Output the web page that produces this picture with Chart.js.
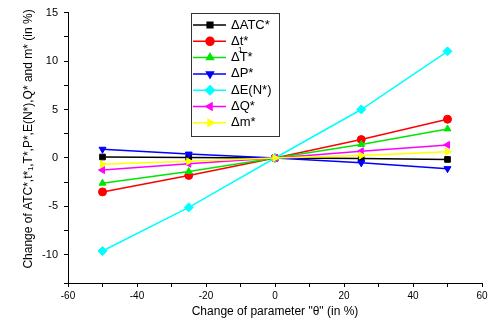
<!DOCTYPE html>
<html>
<head>
<meta charset="utf-8">
<script src="https://cdn.jsdelivr.net/npm/chart.js@4/dist/chart.umd.min.js"></script>
<style>
  html, body { margin: 0; padding: 0; background: #fff; }
  #wrap { width: 498px; height: 324px; }
</style>
</head>
<body>
<div id="wrap"><canvas id="myChart" width="498" height="324"></canvas></div>
<script>
const thetaChange = [-50, -25, 0, 25, 50];
const atc = [0.1, 0.05, 0, -0.05, -0.15];
const t1 = [-3.5, -1.8, 0, 1.9, 4.0];
const bigT = [-2.6, -1.4, 0, 1.4, 3.0];
const price = [0.9, 0.4, 0, -0.5, -1.1];
const eN = [-9.6, -5.1, 0, 5.0, 11.0];
const q = [-1.25, -0.6, 0, 0.7, 1.35];
const m = [-0.65, -0.35, 0, 0.25, 0.65];

const seriesNames = ['ΔATC*', 'Δt*', 'ΔT*', 'ΔP*', 'ΔE(N*)', 'ΔQ*', 'Δm*'];
const seriesValues = [atc, t1, bigT, price, eN, q, m];
const seriesColors = ['#000000', '#ff0000', '#00e600', '#0000ff', '#00ffff', '#ff00ff', '#ffff00'];
const seriesStyles = ['rect', 'circle', 'triangle', 'triangle', 'rectRot', 'triangle', 'triangle'];
const seriesRotation = [0, 0, 0, 180, 0, -90, 90];
const yTitle = 'Change of ATC*,t*₁,T*,P*,E(N*),Q* and m* (in %)';

const datasets = seriesValues.map((vals, i) => ({
    label: seriesNames[i],
    data: vals.map((v, k) => ({ x: thetaChange[k], y: v })),
    borderColor: seriesColors[i],
    backgroundColor: seriesColors[i],
    borderWidth: 1.5,
    pointStyle: seriesStyles[i],
    rotation: seriesRotation[i],
    pointRadius: seriesStyles[i] === 'rectRot' ? 4.5 : 4,
    pointBorderWidth: 1,
    order: -i,
}));

// legend box drawn inside the plot, like the original, plus the y title
const boxLegend = {
    id: 'boxLegend',
    afterDraw(chart) {
        const c = chart.ctx;
        c.save();
        c.strokeStyle = '#333';
        c.lineWidth = 1;
        c.strokeRect(191.5, 13.5, 88, 123);
        datasets.forEach((ds, i) => {
            const y = 25 + i * 16.3;
            c.strokeStyle = ds.borderColor;
            c.lineWidth = 1.5;
            c.beginPath();
            c.moveTo(193, y);
            c.lineTo(226, y);
            c.stroke();
            c.fillStyle = ds.backgroundColor;
            Chart.helpers.drawPoint(c, {
                pointStyle: ds.pointStyle,
                radius: ds.pointRadius,
                rotation: ds.rotation,
                borderWidth: 1
            }, 210, y);
            c.fillStyle = '#000';
            c.font = '13px "Liberation Sans", Arial, sans-serif';
            c.textBaseline = 'middle';
            c.textAlign = 'left';
            c.fillText(ds.label, 231, y);
            if (i === 1) {
                c.font = '8px "Liberation Sans", Arial, sans-serif';
                c.fillText('1', 238, y + 8);
            }
        });
        c.translate(29, 139);
        c.rotate(-Math.PI / 2);
        c.font = '12px "Liberation Sans", Arial, sans-serif';
        c.textAlign = 'center';
        c.textBaseline = 'middle';
        c.fillStyle = '#000';
        c.fillText(yTitle, 0, 0);
        c.restore();
    }
};

const ctx = document.getElementById('myChart').getContext('2d');
new Chart(ctx, {
    type: 'line',
    data: { datasets },
    options: {
        responsive: false,
        animation: false,
        layout: { padding: { top: 10, right: 16, left: 0, bottom: 0 } },
        plugins: { legend: { display: false }, tooltip: { enabled: false } },
        scales: {
            x: {
                type: 'linear',
                min: -60, max: 60,
                afterFit: (s) => { s.height = 41; },
                grid: { drawOnChartArea: false, color: '#000', tickLength: 4 },
                border: { color: '#000', width: 1 },
                ticks: {
                    stepSize: 10, color: '#000', padding: 3, maxRotation: 0,
                    font: { family: '"Liberation Sans", Arial, sans-serif', size: 10 },
                    callback: (v) => (v % 20 === 0 ? v : '')
                },
                title: {
                    display: true, text: 'Change of parameter "θ" (in %)', color: '#000',
                    padding: { top: 0, bottom: 5 },
                    font: { family: '"Liberation Sans", Arial, sans-serif', size: 12 }
                }
            },
            y: {
                min: -12.9, max: 15,
                afterFit: (s) => { s.width = 68; },
                grid: { drawOnChartArea: false, color: '#000', tickLength: 4 },
                border: { color: '#000', width: 1 },
                ticks: {
                    stepSize: 2.5, color: '#000', padding: 6,
                    font: { family: '"Liberation Sans", Arial, sans-serif', size: 11 },
                    callback: (v) => (v % 5 === 0 ? v : '')
                }
            }
        }
    },
    plugins: [boxLegend]
});
</script>
</body>
</html>
